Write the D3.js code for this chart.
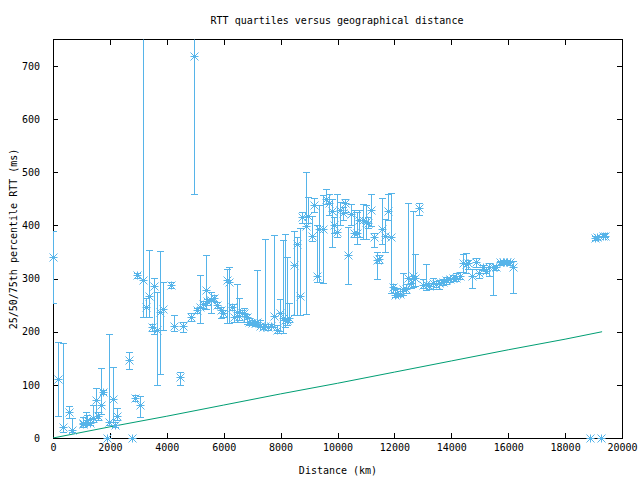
<!DOCTYPE html>
<html>
<head>
<meta charset="utf-8">
<script src="https://cdn.jsdelivr.net/npm/d3@7"></script>
<style>
  html, body { margin: 0; padding: 0; background: #fff; }
  svg { display: block; }
  text { font-family: "DejaVu Sans Mono", "Liberation Mono", monospace; font-size: 10px; fill: #000; }
</style>
</head>
<body>
<svg id="chart" width="640" height="480"></svg>
<script>
// ---- data ----
const distanceKm = [0,186,362,573,685,1044,1066,1160,1206,1300,1395,1511,1594,1676,1768,1888,1980,2097,2179,2238,
  2682,2777,2882,2963,3058,3174,3270,3374,3490,3561,3666,3761,3877,4148,4253,4464,4559,4851,4956,5051,
  5167,5283,5378,5424,5543,5659,5775,5895,5986,6127,6186,6281,6373,6478,6548,6633,6714,6809,6900,7005,
  7100,7181,7276,7371,7452,7568,7652,7768,7884,7979,8074,8155,8236,8306,8482,8594,8682,8763,8882,8974,
  9093,9185,9290,9360,9480,9596,9691,9796,9888,9983,10088,10183,10264,10380,10475,10580,10675,10773,10886,11002,
  11083,11178,11283,11378,11459,11564,11670,11775,11898,11961,12021,12102,12197,12303,12408,12489,12573,12643,12724,12875,
  12995,13111,13227,13347,13462,13578,13698,13814,13955,14070,14165,14306,14401,14517,14598,14717,14868,14984,15104,15220,
  15336,15477,15571,15712,15828,15947,16063,16180,18875,19051,19132,19262,19343,19403];
const rttMedian = [340,111,21,48,15,26,28,31,34,29,37,72,41,62,86,0,31,73,25,42,
  147,0,76,307,63,297,246,268,209,286,203,238,242,288,211,115,211,228,719,240,
  247,253,279,258,260,264,250,241,235,297,293,247,228,238,230,235,236,227,219,217,
  217,219,211,209,211,209,211,230,203,235,225,222,222,225,325,365,268,415,399,418,
  381,438,304,393,393,449,442,428,401,388,430,424,443,344,422,386,385,410,410,407,
  405,429,379,335,336,393,381,428,379,285,269,272,271,280,280,301,291,304,301,432,
  288,289,286,292,290,291,294,297,299,301,302,305,329,327,329,304,331,310,322,315,
  321,321,321,332,332,331,332,321,0,376,378,0,381,381];
const rttQ1 = [255,41,12,38,11,21,21,24,26,24,30,37,33,46,82,0,24,31,21,34,
  129,0,70,302,40,227,227,227,201,196,100,120,203,283,201,100,200,221,460,235,
  216,245,243,250,235,258,245,226,228,216,216,240,219,219,223,230,219,215,213,212,
  211,213,209,205,209,204,208,209,197,201,197,209,212,219,232,232,232,405,233,405,
  371,425,293,293,292,440,420,359,385,378,400,410,425,290,400,378,365,378,375,374,
  395,399,360,299,330,366,351,410,272,272,265,268,268,270,273,290,283,285,287,420,
  282,279,280,280,284,281,288,290,293,296,295,300,313,311,319,282,322,302,317,310,
  305,269,316,326,330,327,326,272,0,372,375,0,378,378];
const rttQ3 = [389,180,178,60,37,40,40,48,44,36,62,95,48,131,90,0,195,133,30,56,
  162,0,80,311,79,800,264,353,214,301,275,352,293,294,231,125,219,236,800,245,
  306,258,344,262,274,270,256,246,240,318,321,252,253,289,263,240,245,233,226,222,
  219,317,222,214,374,211,215,382,212,261,373,384,340,255,390,378,395,426,501,453,
  418,451,400,439,457,468,459,450,415,460,445,435,450,397,440,430,426,430,440,439,
  415,459,385,351,345,451,413,460,461,290,280,283,276,311,289,442,300,428,346,442,
  300,327,292,302,296,297,300,303,301,306,310,313,346,349,335,318,338,318,326,321,
  329,322,325,334,335,334,334,334,0,380,381,0,384,385];
// lower-bound (speed-of-light) line
const boundKm = [0,2000,4000,6000,8000,10000,12000,14000,16000,18000,19300];
const boundRtt = [0,21,41,62,83,103,124,145,166,186,200];
const xTicks = [0,2000,4000,6000,8000,10000,12000,14000,16000,18000,20000];
const yTicks = [0,100,200,300,400,500,600,700];

const pts = distanceKm.map((d,i)=>({d, m: rttMedian[i], lo: rttQ1[i], hi: rttQ3[i]}));
const bound = boundKm.map((d,i)=>({d, r: boundRtt[i]}));

const L = 53, R = 622, T = 39.5, B = 438;
const svg = d3.select("#chart");
const x = d3.scaleLinear().domain([0,20000]).range([L, R]);
const y = d3.scaleLinear().domain([0,750]).range([B, T]);
const blue = "#56b4e9", green = "#009e73";

svg.append("defs").append("clipPath").attr("id","clip")
  .append("rect").attr("x",L).attr("y",T).attr("width",R-L).attr("height",B-T);

// title
svg.append("text").attr("x",337).attr("y",24).attr("text-anchor","middle")
  .text("RTT quartiles versus geographical distance");

// axes with inward ticks (mirrored)
const tl = 5;
const xb = svg.append("g").attr("transform",`translate(0,${B})`)
  .call(d3.axisBottom(x).tickValues(xTicks).tickSize(-tl).tickPadding(10).tickFormat(d3.format("d")));
const xt = svg.append("g").attr("transform",`translate(0,${T})`)
  .call(d3.axisTop(x).tickValues(xTicks).tickSize(-tl).tickFormat(""));
const yl = svg.append("g").attr("transform",`translate(${L},0)`)
  .call(d3.axisLeft(y).tickValues(yTicks).tickSize(-tl).tickPadding(13).tickFormat(d3.format("d")));
const yr = svg.append("g").attr("transform",`translate(${R},0)`)
  .call(d3.axisRight(y).tickValues(yTicks).tickSize(-tl).tickFormat(""));
[xb,xt,yl,yr].forEach(g=>{
  g.select(".domain").remove();
  g.selectAll("line").attr("stroke","#000").attr("shape-rendering","crispEdges");
  g.selectAll("text").attr("font-family","DejaVu Sans Mono").attr("font-size",10).attr("fill","#000");
});
xb.selectAll("text").attr("dy","0.3em");

// border
svg.append("rect").attr("x",L).attr("y",T).attr("width",R-L).attr("height",B-T)
  .attr("fill","none").attr("stroke","#000").attr("shape-rendering","crispEdges");

// axis labels
svg.append("text").attr("x",338).attr("y",474).attr("text-anchor","middle").text("Distance (km)");
svg.append("text").attr("transform","translate(17,239) rotate(-90)").attr("text-anchor","middle")
  .text("25/50/75th percentile RTT (ms)");

const plot = svg.append("g").attr("clip-path","url(#clip)");

// bound line
plot.append("path").datum(bound)
  .attr("d", d3.line().x(d=>x(d.d)).y(d=>y(d.r)))
  .attr("fill","none").attr("stroke",green).attr("stroke-width",1);

// error bars
const eb = plot.append("g").attr("stroke",blue).attr("stroke-width",1).attr("shape-rendering","crispEdges");
const withBar = pts.filter(p=>p.hi>p.lo);
eb.selectAll(".v").data(withBar).join("line")
  .attr("x1",p=>Math.round(x(p.d))+0.5).attr("x2",p=>Math.round(x(p.d))+0.5)
  .attr("y1",p=>y(p.lo)).attr("y2",p=>y(p.hi));
eb.selectAll(".cl").data(withBar).join("line")
  .attr("x1",p=>Math.round(x(p.d))-3).attr("x2",p=>Math.round(x(p.d))+4)
  .attr("y1",p=>Math.round(y(p.lo))+0.5).attr("y2",p=>Math.round(y(p.lo))+0.5);
eb.selectAll(".ch").data(withBar).join("line")
  .attr("x1",p=>Math.round(x(p.d))-3).attr("x2",p=>Math.round(x(p.d))+4)
  .attr("y1",p=>Math.round(y(p.hi))+0.5).attr("y2",p=>Math.round(y(p.hi))+0.5);

// asterisk markers
const sz = 4;
const star = `M${-sz},0H${sz}M0,${-sz}V${sz}M${-sz},${-sz}L${sz},${sz}M${-sz},${sz}L${sz},${-sz}`;
svg.append("g").attr("stroke",blue).attr("stroke-width",1).attr("fill","none")
  .selectAll("path").data(pts).join("path")
  .attr("transform",p=>`translate(${Math.round(x(p.d))+0.5},${Math.round(y(p.m))+0.5})`)
  .attr("d",star);
</script>
</body>
</html>
